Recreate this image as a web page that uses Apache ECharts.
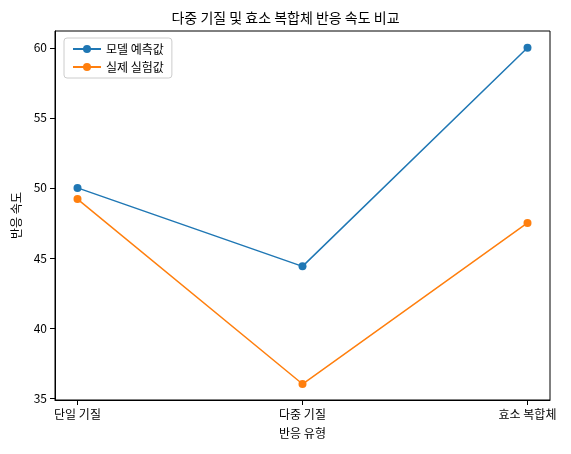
<!DOCTYPE html>
<html><head><meta charset="utf-8">
<script src="https://cdn.jsdelivr.net/npm/echarts@6/dist/echarts.min.js"></script>
<style>html,body{margin:0;padding:0;background:#fff}#c{width:571px;height:454px}</style>
</head><body><div id="c"></div>
<script>
const categories = ['단일 기질', '다중 기질', '효소 복합체'];
const modelValues = [50.0, 44.4, 60.0];
const actualValues = [49.2, 36.0, 47.5];
const yTicks = [35, 40, 45, 50, 55, 60];
const xTicks = [0, 1, 2];
const F = '"Noto Sans CJK KR", "DejaVu Sans", sans-serif';
const chart = echarts.init(document.getElementById('c'));
chart.setOption({
  animation: false,
  textStyle: {fontFamily: F},
  title: {text: '다중 기질 및 효소 복합체 반응 속도 비교', left: 'center', top: 6,
    textStyle: {fontSize: 14, fontWeight: 'normal', color: '#000', fontFamily: F}},
  legend: {left: 64, top: 38, orient: 'vertical', itemWidth: 28, itemHeight: 10, itemGap: 6,
    padding: [5, 8], borderColor: '#ccc', borderWidth: 1, borderRadius: 3,
    textStyle: {fontSize: 12, color: '#000', fontFamily: F},
    data: ['모델 예측값', '실제 실험값']},
  grid: {left: 55, right: 21, top: 31, bottom: 54, show: true, borderColor: '#000', borderWidth: 1},
  xAxis: {type: 'value', min: -0.1, max: 2.1, name: '반응 유형', nameLocation: 'middle', nameGap: 27,
    nameTextStyle: {fontSize: 12, color: '#000'},
    splitLine: {show: false}, axisLine: {onZero: false, lineStyle: {color: '#000'}},
    axisTick: {customValues: xTicks, lineStyle: {color: '#000'}},
    axisLabel: {customValues: xTicks, color: '#000', fontSize: 12, formatter: v => categories[Math.round(v)]}},
  yAxis: {type: 'value', min: 34.86, max: 61.2, name: '반응 속도', nameLocation: 'middle', nameGap: 32,
    nameTextStyle: {fontSize: 12, color: '#000'},
    splitLine: {show: false}, axisLine: {show: true, onZero: false, lineStyle: {color: '#000'}},
    axisTick: {show: true, customValues: yTicks, lineStyle: {color: '#000'}},
    axisLabel: {customValues: yTicks, color: '#000', fontSize: 12}},
  series: [
    {name: '모델 예측값', type: 'line', data: modelValues.map((v, i) => [i, v]), symbol: 'circle', symbolSize: 8,
      itemStyle: {color: '#1f77b4'}, lineStyle: {color: '#1f77b4', width: 1.5}},
    {name: '실제 실험값', type: 'line', data: actualValues.map((v, i) => [i, v]), symbol: 'circle', symbolSize: 8,
      itemStyle: {color: '#ff7f0e'}, lineStyle: {color: '#ff7f0e', width: 1.5}}
  ]
});
</script></body></html>
